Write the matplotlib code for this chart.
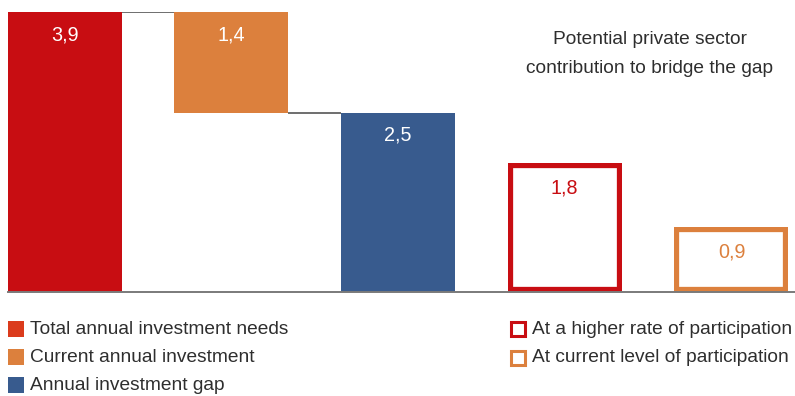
import matplotlib
matplotlib.use("Agg")
import matplotlib.pyplot as plt
from matplotlib.patches import Rectangle

plt.rcParams['font.family'] = ['Liberation Sans', 'DejaVu Sans']

# values in trillions, waterfall then two scenario bars
categories = ['Total annual investment needs', 'Current annual investment',
              'Annual investment gap', 'At a higher rate of participation',
              'At current level of participation']
values = [3.9, 1.4, 2.5, 1.8, 0.9]
bottoms = [0.0, 2.5, 0.0, 0.0, 0.0]
labels = ['3,9', '1,4', '2,5', '1,8', '0,9']
filled = [True, True, True, False, False]

RED = '#C80D12'
ORANGE = '#DC803D'
BLUE = '#385B8E'
TEXT = '#2E2E2E'
colors = [RED, ORANGE, BLUE, RED, ORANGE]
legend_colors = ['#DB3B1C', ORANGE, BLUE, RED, ORANGE]
FS = 13.8

W, H = 795, 396
fig = plt.figure(figsize=(W / 100, H / 100), dpi=100)
ax = fig.add_axes([0, 104 / H, 1, 280 / H])
ax.set_xlim(-0.387, 4.381)
ax.set_ylim(0, 3.9)
ax.axis('off')

xs = list(range(len(values)))
width = 0.684

for x, v, b, lab, f, c in zip(xs, values, bottoms, labels, filled, colors):
    if f:
        ax.bar(x, v, width, bottom=b, color=c, linewidth=0)
        tc, off = 'white', -16.5
    else:
        bar = ax.bar(x, v, width, bottom=b, facecolor='white', edgecolor=c,
                     linewidth=7.4)[0]
        # keep only the inner half of the outline
        bar.set_clip_path(bar)
        tc, off = c, -18
    ax.annotate(lab, (x, b + v), xytext=(0, off), textcoords='offset points',
                ha='center', va='center', color=tc, fontsize=14.2)

# waterfall connectors
steps = [values[0], bottoms[1]]
for i, level in enumerate(steps):
    ax.plot([xs[i] + width / 2, xs[i + 1] - width / 2], [level, level],
            color='#555555', lw=1.2, solid_capstyle='butt')

# baseline
ax.plot([-0.339, 4.381], [0, 0], color='#7A7A7A', lw=1.4, clip_on=False)

fig.text(650 / W, 1 - 54 / H, 'Potential private sector\ncontribution to bridge the gap',
         ha='center', va='center', fontsize=FS, color=TEXT, linespacing=1.85)


def legend_item(px, py, color, text, outline=False):
    size = 16
    if outline:
        r = Rectangle(((px + 1) / W, 1 - (py + size / 2 - 1) / H), (size - 2) / W,
                      (size - 2) / H, transform=fig.transFigure,
                      facecolor='white', edgecolor=color, linewidth=2.2)
    else:
        r = Rectangle((px / W, 1 - (py + size / 2) / H), size / W, size / H,
                      transform=fig.transFigure, facecolor=color, linewidth=0)
    fig.patches.append(r)
    fig.text((px + 22) / W, 1 - py / H, text, ha='left', va='center',
             fontsize=FS, color=TEXT)


for i in range(3):
    legend_item(8, 329 + 28 * i, legend_colors[i], categories[i])
for j, i in enumerate([3, 4]):
    legend_item(510, 329 + 29 * j, legend_colors[i], categories[i], outline=True)

fig.savefig('out.png', dpi=100)
